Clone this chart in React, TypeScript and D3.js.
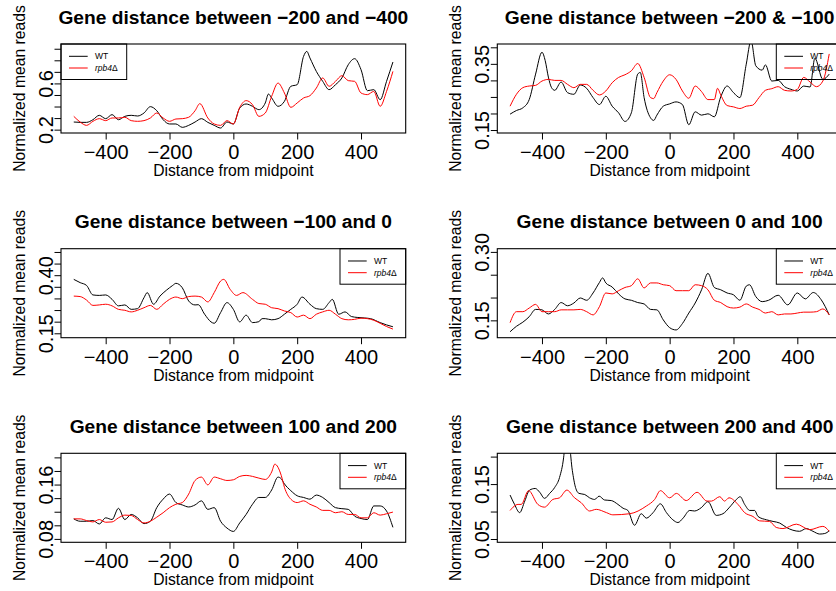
import React, { useEffect, useRef } from "react";
import * as d3 from "d3";

type Pt = [number, number];

const xTicks = [-400, -200, 0, 200, 400];
const xDomain: [number, number] = [-540, 540];

const titles = [
  "Gene distance between \u2212200 and \u2212400",
  "Gene distance between \u2212200 & \u2212100",
  "Gene distance between \u2212100 and 0",
  "Gene distance between 0 and 100",
  "Gene distance between 100 and 200",
  "Gene distance between 200 and 400",
];

// y axis: tick values, which ones carry a label, and the plotted range
const yTicks = [
  [0.2, 0.3, 0.4, 0.5, 0.6, 0.7, 0.8, 0.9],
  [0.15, 0.2, 0.25, 0.3, 0.35, 0.4],
  [0.15, 0.2, 0.25, 0.3, 0.35, 0.4, 0.45, 0.5],
  [0.15, 0.2, 0.25, 0.3],
  [0.08, 0.1, 0.12, 0.14, 0.16, 0.18, 0.2],
  [0.05, 0.1, 0.15, 0.2],
];
const yLabelled = [
  [0.2, 0.6],
  [0.15, 0.35],
  [0.15, 0.4],
  [0.15, 0.3],
  [0.08, 0.16],
  [0.05, 0.15],
];
const yDecimals = [1, 2, 2, 2, 2, 2];
const yDomains: [number, number][] = [
  [0.171, 0.941],
  [0.141, 0.41],
  [0.131, 0.514],
  [0.112, 0.307],
  [0.075, 0.206],
  [0.044, 0.206],
];
const legendPos = ["topleft", "topright", "topright", "topright", "topright", "topright"];

// series: [distance from midpoint, normalized mean reads]
const wt1: Pt[] = [[-500,0.266],[-480,0.263],[-460,0.263],[-440,0.286],[-420,0.324],[-400,0.295],[-380,0.33],[-360,0.286],[-340,0.315],[-320,0.324],[-300,0.318],[-280,0.344],[-260,0.399],[-240,0.364],[-220,0.286],[-200,0.249],[-180,0.249],[-160,0.22],[-140,0.237],[-120,0.266],[-100,0.295],[-80,0.263],[-60,0.237],[-40,0.214],[-20,0.266],[0,0.249],[20,0.387],[40,0.422],[60,0.402],[80,0.373],[100,0.431],[110,0.508],[120,0.474],[140,0.402],[160,0.445],[180,0.575],[200,0.589],[220,0.834],[230,0.877],[240,0.82],[260,0.704],[280,0.618],[300,0.546],[320,0.589],[340,0.647],[360,0.762],[380,0.814],[400,0.719],[420,0.537],[440,0.546],[460,0.459],[480,0.618],[500,0.785]];
const mut1: Pt[] = [[-500,0.315],[-480,0.266],[-460,0.237],[-440,0.272],[-420,0.295],[-400,0.278],[-380,0.301],[-360,0.301],[-340,0.307],[-320,0.278],[-300,0.272],[-280,0.278],[-260,0.301],[-240,0.344],[-220,0.301],[-200,0.272],[-180,0.292],[-160,0.295],[-140,0.307],[-120,0.364],[-105,0.425],[-80,0.301],[-60,0.249],[-40,0.237],[-20,0.278],[0,0.249],[20,0.393],[40,0.451],[60,0.416],[80,0.315],[100,0.344],[120,0.488],[140,0.603],[160,0.517],[180,0.393],[200,0.431],[220,0.474],[240,0.494],[260,0.56],[280,0.647],[300,0.575],[320,0.618],[340,0.667],[360,0.624],[380,0.618],[400,0.517],[420,0.503],[440,0.531],[460,0.402],[480,0.531],[500,0.704]];

const wt2: Pt[] = [[-500,0.198],[-480,0.209],[-460,0.217],[-440,0.242],[-420,0.319],[-400,0.385],[-390,0.36],[-380,0.31],[-370,0.278],[-360,0.27],[-340,0.295],[-320,0.263],[-300,0.258],[-280,0.286],[-260,0.276],[-240,0.248],[-220,0.227],[-200,0.252],[-180,0.222],[-160,0.202],[-140,0.176],[-120,0.202],[-100,0.319],[-92,0.324],[-80,0.248],[-60,0.187],[-50,0.179],[-40,0.195],[-20,0.222],[0,0.229],[20,0.235],[40,0.227],[60,0.166],[80,0.205],[100,0.195],[120,0.199],[140,0.19],[160,0.25],[180,0.283],[200,0.263],[220,0.248],[240,0.349],[255,0.42],[270,0.344],[290,0.331],[300,0.347],[320,0.298],[340,0.3],[360,0.281],[380,0.273],[400,0.268],[420,0.283],[440,0.28],[455,0.367],[480,0.303],[500,0.319]];
const mut2: Pt[] = [[-500,0.222],[-480,0.258],[-460,0.278],[-440,0.283],[-420,0.285],[-400,0.298],[-380,0.303],[-360,0.3],[-340,0.3],[-320,0.288],[-300,0.278],[-280,0.288],[-260,0.288],[-240,0.27],[-220,0.256],[-200,0.268],[-180,0.293],[-160,0.309],[-140,0.317],[-120,0.329],[-100,0.351],[-80,0.309],[-60,0.248],[-50,0.245],[-40,0.263],[-20,0.298],[0,0.317],[20,0.303],[40,0.268],[60,0.246],[80,0.283],[100,0.266],[120,0.242],[140,0.242],[150,0.276],[160,0.256],[180,0.224],[200,0.22],[220,0.215],[240,0.222],[260,0.225],[280,0.248],[300,0.27],[320,0.275],[340,0.281],[360,0.27],[380,0.268],[400,0.273],[420,0.309],[440,0.295],[460,0.281],[480,0.298],[500,0.38]];

const wt3: Pt[] = [[-500,0.382],[-480,0.368],[-460,0.356],[-440,0.315],[-420,0.313],[-400,0.315],[-380,0.296],[-360,0.268],[-340,0.272],[-320,0.253],[-300,0.256],[-280,0.303],[-270,0.325],[-250,0.275],[-230,0.31],[-210,0.335],[-190,0.356],[-180,0.365],[-160,0.346],[-140,0.289],[-120,0.272],[-110,0.273],[-90,0.232],[-70,0.199],[-60,0.193],[-40,0.239],[-20,0.282],[0,0.253],[20,0.199],[40,0.228],[60,0.196],[80,0.2],[90,0.213],[100,0.213],[120,0.208],[140,0.213],[160,0.232],[180,0.253],[200,0.275],[215,0.306],[240,0.275],[260,0.256],[280,0.253],[300,0.282],[310,0.296],[330,0.232],[350,0.242],[370,0.222],[390,0.218],[410,0.216],[430,0.213],[460,0.196],[480,0.186],[500,0.178]];
const mut3: Pt[] = [[-500,0.31],[-480,0.308],[-460,0.293],[-440,0.27],[-420,0.272],[-400,0.275],[-380,0.268],[-360,0.253],[-340,0.249],[-320,0.242],[-300,0.249],[-280,0.26],[-260,0.27],[-240,0.253],[-220,0.275],[-200,0.296],[-180,0.306],[-160,0.299],[-140,0.308],[-120,0.31],[-100,0.306],[-80,0.285],[-60,0.325],[-40,0.375],[-30,0.382],[-10,0.339],[10,0.313],[30,0.325],[60,0.296],[80,0.278],[100,0.275],[120,0.26],[140,0.256],[160,0.246],[180,0.239],[200,0.22],[220,0.228],[240,0.213],[260,0.232],[280,0.242],[300,0.249],[320,0.232],[340,0.213],[360,0.208],[380,0.21],[400,0.215],[420,0.213],[440,0.206],[460,0.193],[480,0.179],[500,0.168]];

const wt4: Pt[] = [[-500,0.125],[-480,0.137],[-460,0.146],[-440,0.158],[-420,0.174],[-400,0.173],[-380,0.164],[-360,0.174],[-340,0.189],[-320,0.182],[-300,0.188],[-280,0.199],[-260,0.194],[-240,0.21],[-220,0.233],[-210,0.243],[-200,0.232],[-180,0.223],[-160,0.208],[-140,0.197],[-120,0.194],[-100,0.189],[-80,0.186],[-60,0.174],[-40,0.173],[-20,0.151],[0,0.134],[20,0.129],[40,0.143],[60,0.166],[80,0.188],[100,0.217],[120,0.253],[140,0.222],[160,0.217],[180,0.21],[200,0.206],[220,0.194],[240,0.225],[250,0.228],[270,0.202],[290,0.191],[310,0.194],[340,0.205],[370,0.184],[400,0.21],[425,0.197],[450,0.211],[475,0.195],[500,0.162]];
const mut4: Pt[] = [[-500,0.145],[-480,0.169],[-460,0.169],[-440,0.177],[-420,0.185],[-400,0.169],[-380,0.169],[-360,0.169],[-340,0.173],[-320,0.173],[-300,0.173],[-280,0.174],[-260,0.169],[-240,0.162],[-220,0.18],[-200,0.21],[-180,0.208],[-160,0.215],[-140,0.222],[-120,0.226],[-100,0.241],[-80,0.221],[-60,0.232],[-40,0.232],[-20,0.228],[0,0.226],[20,0.215],[40,0.215],[60,0.215],[80,0.228],[100,0.226],[120,0.217],[140,0.194],[160,0.189],[180,0.18],[200,0.177],[220,0.179],[240,0.186],[260,0.179],[280,0.174],[300,0.166],[320,0.169],[340,0.162],[360,0.164],[380,0.164],[400,0.166],[420,0.168],[440,0.168],[460,0.169],[480,0.175],[500,0.162]];

const wt5: Pt[] = [[-500,0.1095],[-480,0.106],[-460,0.106],[-440,0.107],[-420,0.102],[-400,0.111],[-380,0.1085],[-360,0.125],[-340,0.1085],[-320,0.116],[-300,0.111],[-280,0.1025],[-260,0.106],[-240,0.126],[-220,0.1385],[-200,0.146],[-180,0.1335],[-160,0.13],[-140,0.127],[-120,0.13],[-100,0.136],[-80,0.1235],[-60,0.126],[-40,0.106],[-20,0.096],[0,0.091],[20,0.1035],[40,0.116],[60,0.131],[80,0.141],[100,0.141],[120,0.152],[140,0.171],[150,0.1685],[160,0.161],[180,0.151],[200,0.1435],[220,0.141],[240,0.1385],[260,0.1445],[280,0.141],[300,0.1335],[320,0.126],[340,0.1245],[360,0.1235],[380,0.1135],[400,0.11],[420,0.1085],[440,0.1285],[460,0.1285],[480,0.121],[500,0.097]];
const mut5: Pt[] = [[-500,0.1095],[-480,0.1095],[-460,0.107],[-440,0.105],[-420,0.1085],[-400,0.1045],[-380,0.105],[-360,0.111],[-340,0.115],[-320,0.1145],[-300,0.1085],[-280,0.1035],[-260,0.106],[-240,0.112],[-220,0.1185],[-200,0.126],[-180,0.131],[-160,0.1335],[-140,0.146],[-120,0.166],[-100,0.171],[-80,0.1595],[-60,0.171],[-40,0.1685],[-20,0.166],[0,0.167],[20,0.172],[40,0.1735],[60,0.172],[80,0.1695],[100,0.1675],[120,0.1785],[130,0.19],[150,0.1735],[160,0.156],[180,0.1385],[200,0.1335],[220,0.136],[240,0.131],[260,0.127],[280,0.122],[300,0.122],[320,0.1185],[340,0.12],[360,0.116],[380,0.116],[400,0.111],[420,0.111],[440,0.1185],[460,0.115],[480,0.117],[500,0.1195]];

const wt6: Pt[] = [[-500,0.13],[-486,0.113],[-470,0.098],[-454,0.119],[-439,0.139],[-421,0.142],[-407,0.135],[-392,0.124],[-376,0.133],[-360,0.144],[-345,0.162],[-332,0.199],[-322,0.26],[-305,0.175],[-295,0.144],[-284,0.133],[-266,0.131],[-251,0.125],[-235,0.122],[-221,0.128],[-204,0.121],[-183,0.12],[-162,0.113],[-146,0.106],[-131,0.102],[-110,0.075],[-89,0.096],[-73,0.088],[-52,0.098],[-29,0.114],[-10,0.098],[10,0.085],[26,0.08],[42,0.088],[63,0.102],[78,0.101],[99,0.107],[120,0.118],[146,0.093],[167,0.096],[188,0.108],[209,0.122],[221,0.127],[235,0.113],[251,0.102],[266,0.102],[277,0.091],[303,0.085],[324,0.082],[345,0.079],[366,0.071],[386,0.066],[407,0.064],[428,0.069],[449,0.064],[470,0.059],[486,0.06],[500,0.065]];
const mut6: Pt[] = [[-500,0.102],[-475,0.113],[-465,0.113],[-442,0.138],[-413,0.113],[-392,0.108],[-366,0.122],[-345,0.125],[-322,0.139],[-298,0.125],[-277,0.116],[-251,0.101],[-230,0.104],[-198,0.098],[-178,0.094],[-125,0.096],[-73,0.11],[-47,0.122],[-29,0.138],[0,0.125],[21,0.133],[52,0.12],[86,0.135],[117,0.119],[131,0.119],[157,0.127],[172,0.119],[186,0.125],[214,0.113],[235,0.098],[261,0.091],[282,0.083],[313,0.082],[334,0.071],[355,0.069],[397,0.077],[439,0.067],[480,0.073],[500,0.064]];

const wtSeries = [wt1, wt2, wt3, wt4, wt5, wt6];
const mutSeries = [mut1, mut2, mut3, mut4, mut5, mut6];

const FONT = "'Liberation Sans', Arial, Helvetica, sans-serif";

const App = () => {
  const svgRef = useRef<SVGSVGElement>(null);

  useEffect(() => {
    const width = 836;
    const height = 591;
    const colLeft = [61, 497.3];
    const rowTop = [44, 248.7, 453.3];
    const boxW = 344.7;
    const boxH = 89;

    const svg = d3
      .select(svgRef.current)
      .attr("width", width)
      .attr("height", height)
      .style("font-family", FONT)
      .style("background", "#fff");

    svg.selectAll("*").remove();
    const defs = svg.append("defs");

    titles.forEach((title, i) => {
      const x0 = colLeft[i % 2];
      const y0 = rowTop[Math.floor(i / 2)];

      const x = d3.scaleLinear().domain(xDomain).range([x0, x0 + boxW]);
      const y = d3.scaleLinear().domain(yDomains[i]).range([y0 + boxH, y0]);

      const clipId = `panel-clip-${i}`;
      defs
        .append("clipPath")
        .attr("id", clipId)
        .append("rect")
        .attr("x", x0)
        .attr("y", y0)
        .attr("width", boxW)
        .attr("height", boxH);

      const g = svg.append("g");

      const line = d3
        .line<Pt>()
        .x((d) => x(d[0]))
        .y((d) => y(d[1]))
        .curve(d3.curveMonotoneX);

      const lines = g.append("g").attr("clip-path", `url(#${clipId})`);
      lines
        .append("path")
        .datum(wtSeries[i])
        .attr("d", line)
        .attr("fill", "none")
        .attr("stroke", "#000")
        .attr("stroke-width", 1);
      lines
        .append("path")
        .datum(mutSeries[i])
        .attr("d", line)
        .attr("fill", "none")
        .attr("stroke", "#ff0000")
        .attr("stroke-width", 1);

      // box
      g.append("rect")
        .attr("x", x0)
        .attr("y", y0)
        .attr("width", boxW)
        .attr("height", boxH)
        .attr("fill", "none")
        .attr("stroke", "#000")
        .attr("stroke-width", 1.1);

      // x axis
      const xAxis = g
        .append("g")
        .attr("transform", `translate(0, ${y0 + boxH})`)
        .call(d3.axisBottom(x).tickValues(xTicks).tickSize(6.5).tickFormat(d3.format("d")));
      xAxis.select(".domain").remove();
      xAxis.selectAll("line").attr("stroke", "#000");
      xAxis
        .selectAll("text")
        .attr("y", 26)
        .attr("dy", null)
        .attr("fill", "#000")
        .style("font-family", FONT)
        .style("font-size", "20px");

      // y axis
      const fmt = d3.format(`.${yDecimals[i]}f`);
      const labelled = yLabelled[i];
      const yAxis = g
        .append("g")
        .attr("transform", `translate(${x0}, 0)`)
        .call(
          d3
            .axisLeft(y)
            .tickValues(yTicks[i])
            .tickSize(6.5)
            .tickFormat((d) => (labelled.some((v) => Math.abs(v - +d) < 1e-9) ? fmt(+d) : ""))
        );
      yAxis.select(".domain").remove();
      yAxis.selectAll("line").attr("stroke", "#000");
      yAxis
        .selectAll("text")
        .attr("transform", "rotate(-90)")
        .attr("x", 0)
        .attr("y", -8)
        .attr("dy", null)
        .attr("text-anchor", "middle")
        .attr("fill", "#000")
        .style("font-family", FONT)
        .style("font-size", "20px");

      // titles
      g.append("text")
        .attr("x", x0 + boxW / 2)
        .attr("y", y0 - 20.5)
        .attr("text-anchor", "middle")
        .style("font-size", "19.2px")
        .style("font-weight", "bold")
        .text(title);

      g.append("text")
        .attr("x", x0 + boxW / 2)
        .attr("y", y0 + boxH + 43)
        .attr("text-anchor", "middle")
        .style("font-size", "15.7px")
        .text("Distance from midpoint");

      g.append("text")
        .attr("transform", `translate(${x0 - 36}, ${y0 + boxH / 2}) rotate(-90)`)
        .attr("text-anchor", "middle")
        .style("font-size", "15.7px")
        .text("Normalized mean reads");

      // legend
      const lw = 65.7;
      const lh = 35.5;
      const lx = legendPos[i] === "topleft" ? x0 : x0 + boxW - lw;
      const leg = g.append("g").attr("transform", `translate(${lx}, ${y0})`);
      leg
        .append("rect")
        .attr("width", lw)
        .attr("height", lh)
        .attr("fill", "none")
        .attr("stroke", "#000")
        .attr("stroke-width", 1);
      [
        { color: "#000", row: 12.3 },
        { color: "#ff0000", row: 24 },
      ].forEach((r) => {
        leg
          .append("line")
          .attr("x1", 8)
          .attr("x2", 26.7)
          .attr("y1", r.row)
          .attr("y2", r.row)
          .attr("stroke", r.color)
          .attr("stroke-width", 1);
      });
      leg
        .append("text")
        .attr("x", 34)
        .attr("y", 12.3 + 3)
        .style("font-size", "8.5px")
        .text("WT");
      const mutLabel = leg
        .append("text")
        .attr("x", 34)
        .attr("y", 24 + 3)
        .style("font-size", "8.5px");
      mutLabel.append("tspan").style("font-style", "italic").text("rpb4");
      mutLabel.append("tspan").text("\u0394");
    });
  }, []);

  return (
    <div style={{ position: "absolute", left: 0, top: 0, width: 836, height: 591, overflow: "hidden" }}>
      <svg ref={svgRef} style={{ display: "block" }}></svg>
    </div>
  );
};

export default App;
